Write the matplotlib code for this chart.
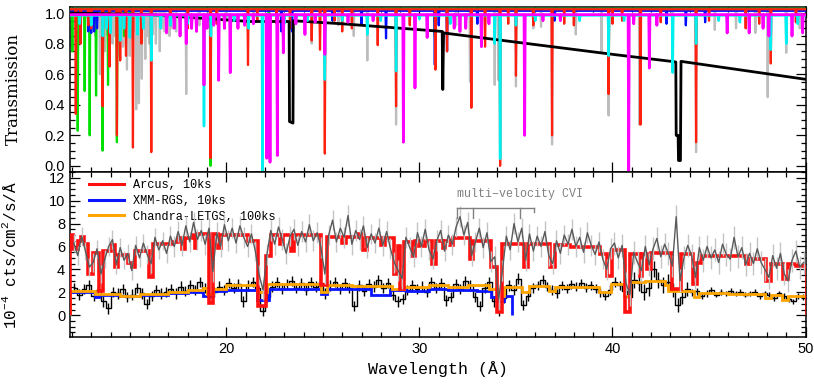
import numpy as np
import matplotlib
matplotlib.use("Agg")
import matplotlib.pyplot as plt
from matplotlib.ticker import MultipleLocator, FormatStrFormatter

# ---------------------------------------------------------------
# Transmission model: absorption lines (wavelength [A], min. transmission)
# ---------------------------------------------------------------
gray_lines = [(13.2, 0.85), (13.3, 0.9), (13.45, 0.6), (13.55, 0.88), (13.7, 0.75),
              (13.8, 0.86), (13.95, 0.7), (14.1, 0.8), (14.2, 0.85), (14.3, 0.9),
              (14.45, 0.72), (14.55, 0.86), (14.65, 0.78), (14.85, 0.63), (15.0, 0.72),
              (15.15, 0.84), (15.25, 0.88), (15.33, 0.37), (15.47, 0.41), (15.62, 0.57),
              (15.8, 0.7), (15.9, 0.85), (16.0, 0.8), (16.2, 0.86), (16.35, 0.8),
              (16.55, 0.75), (16.7, 0.9), (16.8, 0.88), (17.05, 0.85), (17.2, 0.9),
              (17.4, 0.88), (17.92, 0.47), (18.6, 0.92), (19.15, 0.9), (20.0, 0.95),
              (21.4, 0.93), (24.42, 0.80), (25.8, 0.92), (26.6, 0.85), (27.3, 0.69),
              (28.79, 0.27), (30.8, 0.67), (31.9, 0.92), (32.62, 0.55), (33.9, 0.53),
              (34.1, 0.56), (35.0, 0.52), (35.9, 0.9), (36.3, 0.91), (36.87, 0.14),
              (38.1, 0.86), (39.43, 0.74), (39.8, 0.33), (41.4, 0.27), (43.1, 0.9),
              (44.33, 0.09), (45.3, 0.89), (46.4, 0.9), (47.4, 0.87), (48.04, 0.45),
              (49.0, 0.74), (49.7, 0.9)]

green_lines = [(12.02, 0.75), (12.3, 0.23), (12.66, 0.49), (12.92, 0.2), (13.25, 0.46),
               (13.59, 0.1), (13.87, 0.53), (14.33, 0.155), (14.7, 0.85), (15.0, 0.9),
               (19.18, 0.0), (22.2, 0.95), (30.8, 0.85)]

blue_lines = [(12.85, 0.88), (13.0, 0.87), (13.15, 0.88), (13.3, 0.9), (22.85, 0.88),
              (23.4, 0.88), (25.5, 0.95), (27.0, 0.93), (28.27, 0.835), (30.8, 0.66),
              (31.0, 0.92), (31.43, 0.75), (33.0, 0.93), (37.0, 0.95), (42.8, 0.93),
              (43.8, 0.92), (44.8, 0.94)]

red_lines = [(12.2, 0.34), (12.45, 0.8), (12.85, 0.92), (13.0, 0.9), (13.59, 0.39),
             (13.95, 0.65), (14.33, 0.2), (14.5, 0.69), (14.8, 0.72), (15.16, 0.12),
             (15.6, 0.8), (16.11, 0.09), (17.1, 0.92), (18.0, 0.9), (19.18, 0.05),
             (19.5, 0.93), (21.12, 0.66), (21.6, 0.95), (22.6, 0.93), (23.3, 0.9),
             (24.42, 0.82), (24.85, 0.76), (25.1, 0.08), (25.6, 0.95), (26.0, 0.88),
             (26.5, 0.9), (27.84, 0.79), (28.79, 0.39), (29.5, 0.92), (30.83, 0.63),
             (31.43, 0.75), (32.69, 0.38), (33.4, 0.78), (34.18, 0.0), (34.6, 0.93),
             (35.0, 0.59), (35.9, 0.92), (36.87, 0.2), (37.5, 0.93), (38.0, 0.92),
             (39.8, 0.47), (40.0, 0.93), (40.5, 0.95), (41.45, 0.27), (42.5, 0.94),
             (44.33, 0.155), (45.0, 0.95), (46.9, 0.9), (47.6, 0.93), (48.2, 0.67),
             (49.5, 0.94)]

cyan_lines = [(12.4, 0.93), (13.0, 0.92), (13.6, 0.85), (13.8, 0.9), (14.0, 0.87),
              (14.5, 0.82), (14.7, 0.9), (15.0, 0.84), (15.4, 0.86), (15.7, 0.9),
              (16.11, 0.69), (16.6, 0.9), (17.1, 0.92), (17.6, 0.94), (18.0, 0.93),
              (18.84, 0.26), (19.2, 0.85), (19.6, 0.94), (20.4, 0.95), (21.15, 0.9),
              (21.87, -0.03), (23.0, 0.93), (23.6, 0.95), (24.2, 0.95), (25.1, 0.565),
              (26.0, 0.95), (27.3, 0.86), (28.0, 0.95), (28.79, 0.62), (30.0, 0.96),
              (31.6, 0.93), (32.4, 0.95), (33.9, 0.8), (34.18, 0.046), (35.0, 0.92),
              (36.0, 0.95), (38.3, 0.95), (39.8, 0.72), (40.6, 0.95), (43.12, 0.61),
              (44.33, 0.8), (45.5, 0.95), (46.6, 0.94), (48.2, 0.76), (49.0, 0.8),
              (49.6, 0.93)]

magenta_lines = [(16.9, 0.87), (17.3, 0.9), (17.6, 0.85), (17.92, 0.8), (18.2, 0.9),
                 (18.45, 0.88), (18.84, 0.53), (19.0, 0.9), (19.35, 0.92), (19.6, 0.56),
                 (19.9, 0.9), (20.2, 0.61), (20.6, 0.9), (20.95, 0.92), (21.4, 0.93),
                 (22.09, 0.05), (22.26, 0.024), (22.64, 0.068), (22.95, 0.74), (23.6, 0.93),
                 (24.07, 0.86), (24.6, 0.94), (25.1, 0.73), (26.3, 0.94), (27.6, 0.95),
                 (29.17, 0.155), (29.77, 0.51), (30.4, 0.84), (31.8, 0.9), (32.1, 0.88),
                 (32.4, 0.9), (33.21, 0.78), (33.6, 0.93), (35.45, 0.2), (36.4, 0.95),
                 (37.3, 0.95), (40.84, -0.03), (41.1, 0.93), (41.91, 0.64), (42.3, 0.92),
                 (45.94, 0.87), (47.08, 0.87), (47.8, 0.9), (48.1, 0.85), (49.3, 0.85),
                 (49.85, 0.87)]

# continuum transmission with the three edges
black_wl = [11.9, 16.0, 21.2, 23.25, 23.27, 23.45, 23.47, 26.0, 31.18, 31.21, 31.25,
            35.0, 40.2, 43.05, 43.28, 43.3, 43.4, 43.42, 43.52, 43.55, 50.1]
black_tr = [1.0, 0.99, 0.945, 0.945, 0.29, 0.28, 0.95, 0.93, 0.88, 0.50, 0.87,
            0.81, 0.727, 0.684, 0.68, 0.2, 0.2, 0.035, 0.035, 0.684, 0.565]

# ---------------------------------------------------------------
# Count spectra (10^-4 cts/cm^2/s/A)
# ---------------------------------------------------------------
# Arcus 10 ks simulated data, 0.2 A bins starting at 12.0 A
arcus_counts = [6.3, 5.2, 6.9, 5.6, 4.2,  4.6, 5.8, 3.6, 4.9, 6.0,
                6.6, 4.4, 5.9, 4.8, 5.4,  3.9, 6.1, 5.0, 6.3, 5.3,
                4.5, 6.8, 5.7, 6.5, 5.4,  6.9, 6.0, 7.3, 6.1, 7.8,
                6.4, 8.1, 6.6, 7.4, 6.2,  7.6, 3.8, 7.2, 6.0, 7.9,
                6.5, 7.6, 6.3, 7.8, 6.8,  6.0, 7.1, 5.6, 3.5, 2.2,
                5.3, 7.4, 6.2, 7.7, 6.6,  5.4, 6.9, 7.5, 6.1, 7.3,
                6.4, 7.9, 6.5, 7.2, 5.9,  3.6, 7.0, 8.3, 6.4, 7.6,
                6.8, 8.7, 6.2, 7.4, 6.6,  7.8, 5.9, 7.1, 6.3, 7.6,
                6.1, 7.3, 5.8, 4.6, 3.9,  3.2, 6.8, 5.9, 5.1, 7.2,
                6.0, 7.5, 5.7, 4.9, 6.5,  7.4, 5.6, 7.0, 6.2, 7.7,
                8.6, 7.0, 8.1, 5.2, 6.4,  7.6, 5.9, 7.2, 4.7, 5.1,
                1.4, 3.9, 6.9, 5.7, 8.0,  6.4, 7.6, 4.8, 7.1, 5.6,
                6.9, 6.0, 7.3, 5.2, 4.5,  6.5, 5.4, 7.0, 6.2, 7.5,
                6.0, 6.8, 5.5, 7.2, 6.1,  5.3, 6.4, 4.9, 4.0, 5.8,
                6.3, 5.0, 6.1, 2.8, 1.8,  5.5, 4.6, 3.9, 6.0, 4.4,
                5.8, 6.7, 5.1, 6.2, 5.4,  4.3, 8.6, 3.0, 5.0, 6.1,
                5.2, 3.3, 5.9, 4.8, 6.0,  5.0, 5.7, 4.6, 6.2, 5.3,
                4.9, 6.8, 5.1, 5.9, 4.4,  5.4, 4.5, 5.8, 4.6, 4.0,
                3.3, 5.2, 4.1, 5.4, 3.6,  3.0, 4.8, 5.6, 4.2, 4.6]
# 1-sigma uncertainty per 1 A stretch (12-13, 13-14, ... 49-50)
arcus_err_per_A = [0.8, 0.8, 0.8, 0.8, 0.8, 0.9, 0.9, 0.9, 0.9, 0.9,
                   0.9, 0.9, 0.9, 0.9, 0.9, 0.9, 0.9, 0.9, 0.9, 0.9,
                   0.9, 0.9, 0.9, 0.9, 0.9, 0.9, 0.9, 0.9, 1.0, 1.0,
                   1.0, 1.0, 1.0, 1.0, 1.0, 1.0, 1.0, 1.0]

# Chandra-LETGS 100 ks simulated data, 0.25 A bins starting at 12.0 A
letgs_counts = [2.4, 1.8, 2.3, 2.6,  1.7, 2.2, 1.2, 0.6,  2.0, 1.9, 2.3, 1.6,
                1.8, 2.4, 1.9, 1.0,  1.7, 2.2, 1.9, 2.0,  2.3, 1.9, 2.5, 2.1,
                2.6, 2.2, 2.9, 2.4,  1.6, 2.0, 2.5, 2.2,  2.8, 2.4, 2.7, 1.2,
                2.6, 2.9, 2.4, 0.4,  1.6, 2.5, 2.9, 2.3,  2.7, 3.0, 2.4, 2.8,
                2.2, 2.9, 2.5, 2.8,  1.9, 2.6, 2.9, 2.3,  2.8, 2.4, 0.8, 2.6,
                2.1, 2.7, 2.5, 3.1,  2.4, 2.8, 1.8, 1.2,  1.4, 2.2, 2.6, 2.3,
                2.5, 2.0, 2.9, 2.4,  2.8, 1.3, 1.6, 2.7,  2.3, 3.0, 2.6, 1.6,
                0.8, 2.4, 2.9, 1.2,  0.4, 1.5, 2.6, 2.2,  3.2, 0.9, 1.7, 2.4,
                2.6, 3.1, 2.5, 2.2,  1.9, 2.6, 2.3, 2.7,  2.5, 2.8, 2.4, 2.6,
                2.3, 2.0, 1.7, 2.2,  2.9, 2.6, 2.1, 1.6,  3.1, 2.8, 2.0, 2.4,
                4.0, 3.1, 2.6, 2.9,  2.2, 0.9, 1.6, 2.3,  2.0, 2.1, 1.7, 1.9,
                2.2, 1.8, 2.0, 1.9,  2.1, 1.9, 2.0, 1.8,  1.9, 2.0, 1.7, 1.9,
                1.8, 1.5, 1.9, 1.7,  1.4, 1.2, 1.7, 1.6]
letgs_err_per_A = [0.45, 0.45, 0.45, 0.45, 0.45, 0.45, 0.45, 0.45, 0.45, 0.45,
                   0.45, 0.45, 0.45, 0.45, 0.45, 0.45, 0.45, 0.45, 0.45, 0.45,
                   0.45, 0.45, 0.45, 0.45, 0.4, 0.4, 0.4, 0.4, 0.4, 0.7,
                   0.7, 0.6, 0.3, 0.25, 0.25, 0.25, 0.25, 0.25]

# Arcus model (step function: edges and values)
arcus_model_edges = [11.9, 12.05, 12.3, 12.45, 12.6, 12.85, 13.1, 13.4, 13.6, 14.0,
                     14.25, 14.4, 14.9, 15.1, 15.25, 16.0, 16.2, 17.2, 17.5, 17.7,
                     17.85, 18.2, 18.35, 18.45, 19.1, 19.3, 19.55, 19.7, 21.1, 21.65,
                     22.05, 22.3, 22.8, 22.95, 23.35, 23.5, 24.9, 25.2, 26.0, 26.2,
                     26.8, 27.1, 27.3, 28.0, 28.2, 28.7, 28.9, 29.0, 29.2, 29.6,
                     29.75, 30.0, 30.3, 30.65, 30.85, 31.2, 31.35, 31.6, 31.75, 32.6,
                     32.75, 33.7, 34.0, 34.3, 35.4, 35.6, 36.75, 37.0, 37.8, 39.35,
                     39.7, 39.96, 40.65, 40.9, 41.4, 41.55, 41.8, 42.0, 43.1, 43.55,
                     44.15, 44.4, 44.6, 46.9, 47.1, 47.95, 48.2, 48.85, 49.1, 49.5,
                     50.1]
arcus_model_vals = [7.0, 5.8, 6.5, 6.8, 6.2, 3.6, 5.4, 2.1, 5.6, 6.1,
                    4.2, 5.3, 4.6, 4.2, 5.6, 3.3, 6.2, 6.4, 6.7, 5.8,
                    6.7, 7.0, 5.9, 7.1, 1.1, 7.1, 5.9, 7.0, 6.5, 0.8,
                    5.2, 7.0, 6.2, 7.0, 5.6, 7.0, 2.6, 6.8, 6.3, 6.8,
                    7.1, 5.7, 6.7, 6.1, 6.7, 3.6, 6.0, 2.3, 6.4, 5.2,
                    6.5, 6.0, 6.5, 4.5, 6.5, 5.9, 6.5, 6.1, 6.7, 4.9,
                    6.5, 4.2, 0.25, 6.2, 4.2, 6.2, 4.2, 6.1, 5.95, 5.35,
                    3.46, 5.65, 0.3, 5.35, 3.46, 5.35, 4.0, 5.45, 2.3, 5.35,
                    2.7, 4.6, 5.2, 4.5, 4.9, 3.0, 4.5, 3.2, 4.5, 4.3]

# XMM-RGS model
rgs_model_edges = [11.9, 13.2, 13.4, 13.7, 14.5, 15.5, 17.0, 18.0, 18.8, 19.3,
                   20.0, 21.6, 22.2, 24.9, 25.2, 27.5, 28.5, 29.3, 30.5, 31.5,
                   33.0, 33.7, 34.0, 34.4, 34.8]
rgs_model_vals = [2.0, 1.6, 1.8, 1.75, 1.65, 1.8, 1.9, 2.05, 1.7, 2.1,
                  2.2, 1.3, 2.3, 1.85, 2.25, 1.8, 2.2, 2.1, 2.25, 2.2,
                  2.1, 1.6, 1.2, 1.7]

# Chandra-LETGS model
letgs_model_edges = [11.9, 13.2, 14.5, 15.5, 17.0, 18.0, 18.8, 19.0, 19.3, 20.0,
                     21.6, 22.1, 24.9, 25.2, 26.5, 28.6, 29.2, 30.5, 31.5, 32.5,
                     33.6, 34.0, 34.4, 35.3, 35.7, 36.7, 37.0, 39.3, 39.9, 40.6,
                     40.9, 41.7, 42.7, 42.9, 44.2, 44.5, 46.0, 47.9, 48.2, 48.8,
                     49.1, 50.1]
letgs_model_vals = [2.1, 1.85, 1.7, 1.85, 2.0, 2.2, 2.4, 1.85, 2.3, 2.6,
                    2.0, 2.7, 2.0, 2.6, 2.55, 2.3, 2.5, 2.6, 2.5, 2.65,
                    2.3, 1.7, 2.45, 2.0, 2.55, 2.1, 2.45, 2.0, 2.75, 1.7,
                    2.9, 3.0, 2.6, 2.1, 1.6, 1.95, 1.85, 1.5, 1.75, 1.3,
                    1.65]

# velocity components of C VI
cvi_wl = [31.93, 32.79, 35.2, 35.93]
cvi_top = 9.4
cvi_foot = [8.5, 8.5, 8.5, 9.0]

legend_labels = ["Arcus, 10ks", "XMM-RGS, 10ks", "Chandra-LETGS, 100ks"]

# ---------------------------------------------------------------
mono = "Liberation Mono"
plt.rcParams["font.family"] = ["Liberation Sans", "DejaVu Sans"]
plt.rcParams["mathtext.default"] = "regular"

fig = plt.figure(figsize=(8.14, 3.88), dpi=100)
ax1 = fig.add_axes([0.086, 0.5567, 0.9036, 0.4253])
ax2 = fig.add_axes([0.086, 0.1314, 0.9036, 0.4253], sharex=ax1)

XMIN, XMAX = 11.9, 50.0


def spike_curve(lines, base, hw=0.03):
    xs, ys = [XMIN - 0.5], [base]
    for wl, tr in sorted(lines):
        xs += [wl - hw, wl, wl + hw]
        ys += [base, tr, base]
    xs.append(XMAX + 0.5)
    ys.append(base)
    return xs, ys


species = [(gray_lines, 1.022, "#bdbdbd", 1.6, 2),
           (green_lines, 1.028, "#00e000", 1.6, 3),
           (blue_lines, 1.015, "#0010ff", 1.6, 4),
           (red_lines, 1.025, "#ff2010", 1.6, 5),
           (cyan_lines, 0.985, "#00f0f0", 1.8, 7),
           (magenta_lines, 0.99, "#ff00ff", 2.0, 8)]
for lines, base, col, lw, z in species:
    xs, ys = spike_curve(lines, base)
    ax1.plot(xs, ys, color=col, lw=lw, zorder=z)
ax1.plot(black_wl, black_tr, color="black", lw=2.0, zorder=6)

ax1.set_xlim(XMIN, XMAX)
ax1.set_ylim(-0.04, 1.04)
ax1.yaxis.set_major_locator(MultipleLocator(0.2))
ax1.yaxis.set_minor_locator(MultipleLocator(0.05))
ax1.yaxis.set_major_formatter(FormatStrFormatter("%.1f"))
ax1.set_ylabel("Transmission", family="DejaVu Serif", fontsize=12)
ax1.yaxis.set_label_coords(-0.066, 0.5)
ax1.tick_params(axis="x", labelbottom=False)

# ---------------- counts panel ----------------
arcus_x = 12.1 + 0.2 * np.arange(len(arcus_counts))
arcus_e = np.repeat(arcus_err_per_A, 5)
letgs_x = 12.125 + 0.25 * np.arange(len(letgs_counts))
letgs_e = np.repeat(letgs_err_per_A, 4)

ax2.errorbar(letgs_x, letgs_counts, yerr=letgs_e, fmt="none", ecolor="black",
             elinewidth=1.0, zorder=2)
ax2.step(letgs_x, letgs_counts, where="mid", color="black", lw=1.0, zorder=2)
ax2.stairs(rgs_model_vals, rgs_model_edges, color="#0a14ff", lw=2.0, zorder=3)
ax2.stairs(letgs_model_vals, letgs_model_edges, color="#ffa500", lw=2.0, zorder=4)
ax2.stairs(arcus_model_vals, arcus_model_edges, color="#ff1010", lw=2.6, zorder=5)
ax2.errorbar(arcus_x, arcus_counts, yerr=arcus_e, fmt="none", ecolor="#c4c4c4",
             elinewidth=1.0, zorder=6)
ax2.plot(arcus_x, arcus_counts, color="#5a5a5a", lw=1.0, zorder=7)

# legend
handles = [plt.Line2D([], [], color=c, lw=2.2) for c in ("#ff1010", "#0a14ff", "#ffa500")]
ax2.legend(handles, legend_labels, loc="upper left", bbox_to_anchor=(0.026, 0.955),
           frameon=False, borderpad=0, borderaxespad=0, handlelength=2.9,
           handletextpad=0.75, labelspacing=0.3,
           prop={"family": mono, "size": 8.6})

# multi-velocity C VI bracket
ax2.plot([cvi_wl[0], cvi_wl[-1]], [cvi_top, cvi_top], color="#808080", lw=1.0, zorder=8)
for wl, foot in zip(cvi_wl, cvi_foot):
    ax2.plot([wl, wl], [foot, cvi_top], color="#808080", lw=1.0, zorder=8)
ax2.text(cvi_wl[0], cvi_top + 0.7, "multi\u2212velocity CVI", family=mono, fontsize=8.4,
         color="#808080", ha="left", va="bottom")

ax2.set_ylim(-1.9, 12.5)
ax2.yaxis.set_major_locator(MultipleLocator(2))
ax2.yaxis.set_minor_locator(MultipleLocator(0.5))
ax2.xaxis.set_major_locator(MultipleLocator(10))
ax2.xaxis.set_minor_locator(MultipleLocator(1))
ax2.set_xlabel("Wavelength (\u00c5)", family=mono, fontsize=12, labelpad=4)
ax2.set_ylabel("10$^{-4}$ cts/cm$^{2}$/s/\u00c5", family=mono, fontsize=11.5)
ax2.yaxis.set_label_coords(-0.069, 0.5)

for ax in (ax1, ax2):
    for sp in ax.spines.values():
        sp.set_linewidth(1.1)
    ax.tick_params(which="both", direction="in", top=True, right=True,
                   width=0.9, labelsize=10.5)
    ax.tick_params(which="major", length=7)
    ax.tick_params(which="minor", length=3.5)

fig.savefig("out.png", dpi=100)
